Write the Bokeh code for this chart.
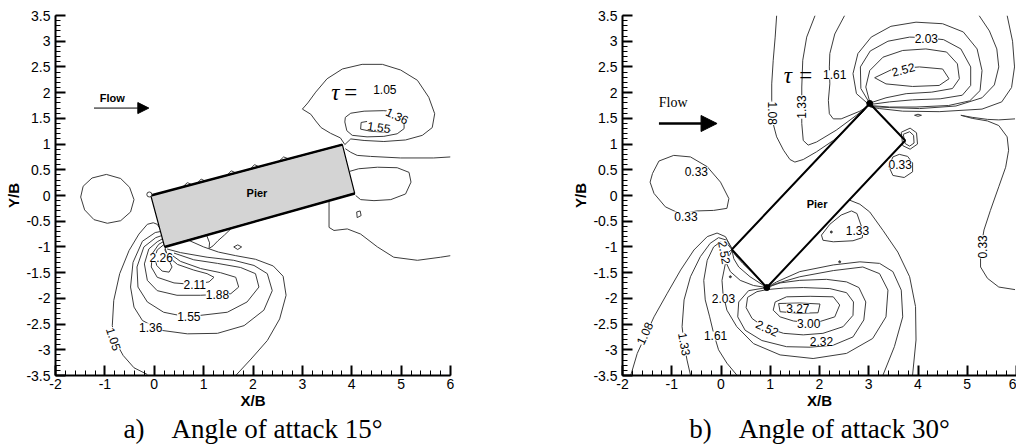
from bokeh.plotting import figure
from bokeh.models import (ColumnDataSource, LabelSet, Label, FixedTicker,
                          CustomJSTickFormatter, Arrow, NormalHead, Title)
from bokeh.layouts import row
from bokeh.embed import file_html
from bokeh.resources import INLINE
from bokeh.core.properties import value

# ---------------- axes ----------------
X_TICKS = [-2, -1, 0, 1, 2, 3, 4, 5, 6]
X_TICK_LABELS = ["-2", "-1", "0", "1", "2", "3", "4", "5", "6"]
Y_TICKS = [-3.5, -3, -2.5, -2, -1.5, -1, -0.5, 0, 0.5, 1, 1.5, 2, 2.5, 3, 3.5]
Y_TICK_LABELS = ["-3.5", "-3", "-2.5", "-2", "-1.5", "-1", "-0.5", "0",
                 "0.5", "1", "1.5", "2", "2.5", "3", "3.5"]
X_MINOR = [round(-2 + 0.2 * i, 2) for i in range(41)]
Y_MINOR = [round(-3.5 + 0.1 * i, 2) for i in range(71)]

# ---------------- panel a) angle of attack 15 ----------------
a_pier_x = [-0.07, 3.81, 4.06, 0.21]
a_pier_y = [0.00, 0.99, 0.04, -1.00]

a_circle_x = [-0.97, -0.68, -0.50, -0.41, -0.48, -0.68, -0.95, -1.22, -1.41, -1.49, -1.44, -1.26, -0.97]
a_circle_y = [0.41, 0.33, 0.16, -0.08, -0.32, -0.49, -0.54, -0.47, -0.28, -0.03, 0.18, 0.34, 0.41]

a_105_left_x = [-0.14, -0.41, -0.63, -0.78, -0.85, -0.82, -0.70, -0.51, -0.31, -0.14, -0.02, 0.06, 0.10]
a_105_left_y = [-3.48, -3.35, -3.11, -2.85, -2.53, -2.04, -1.52, -1.07, -0.75, -0.56, -0.53, -0.56, -0.62]
a_105_right_x = [1.65, 1.96, 2.29, 2.54, 2.67, 2.61, 2.41, 2.05, 1.65, 1.30, 1.00, 0.67]
a_105_right_y = [-3.50, -3.18, -2.82, -2.40, -1.94, -1.57, -1.37, -1.24, -1.17, -1.10, -1.00, -0.86]
a_136_x = [0.13, 0.02, -0.24, -0.43, -0.48, -0.41, -0.24, 0.13, 0.67, 1.28, 1.82, 2.22, 2.39, 2.29, 2.02, 1.61, 1.07, 0.53, 0.26]
a_136_y = [-0.70, -0.72, -0.89, -1.30, -1.78, -2.17, -2.43, -2.62, -2.69, -2.68, -2.53, -2.23, -1.85, -1.52, -1.36, -1.26, -1.20, -1.11, -1.04]
a_155_x = [0.15, 0.03, -0.21, -0.35, -0.33, -0.14, 0.19, 0.50, 0.94, 1.48, 1.88, 2.12, 2.05, 1.75, 1.28, 0.80, 0.40]
a_155_y = [-0.78, -0.82, -1.00, -1.39, -1.78, -2.07, -2.27, -2.33, -2.33, -2.27, -2.07, -1.78, -1.52, -1.40, -1.32, -1.25, -1.12]
a_188_x = [0.17, 0.06, -0.11, -0.20, -0.14, 0.06, 0.46, 0.94, 1.55, 1.71, 1.65, 1.34, 0.94, 0.53, 0.30]
a_188_y = [-0.84, -0.90, -1.04, -1.33, -1.65, -1.85, -1.94, -1.94, -1.91, -1.78, -1.59, -1.50, -1.42, -1.28, -1.12]
a_211_x = [0.18, 0.09, -0.04, -0.06, 0.06, 0.40, 0.80, 1.11, 1.21, 1.07, 0.80, 0.47, 0.30, 0.21]
a_211_y = [-0.90, -0.95, -1.13, -1.39, -1.59, -1.70, -1.73, -1.68, -1.59, -1.52, -1.45, -1.34, -1.20, -1.05]
a_226_x = [0.20, 0.06, 0.01, 0.05, 0.16, 0.30, 0.36, 0.30, 0.25, 0.22]
a_226_y = [-0.95, -1.06, -1.21, -1.36, -1.47, -1.49, -1.39, -1.26, -1.13, -1.02]
a_spike_x = [1.06, 1.12, 1.11, 1.19, 1.29, 1.42, 1.55]
a_spike_y = [-0.77, -0.92, -1.03, -0.98, -0.88, -0.77, -0.65]
a_diamond_x = [1.61, 1.69, 1.77, 1.69, 1.61]
a_diamond_y = [-1.00, -0.96, -1.00, -1.05, -1.00]
a_small_x = [4.10, 4.17, 4.19, 4.11, 4.10]
a_small_y = [-0.32, -0.30, -0.39, -0.43, -0.32]

a_up105_x = [3.86, 3.77, 3.57, 3.38, 3.27, 3.17, 3.00, 3.11, 3.27, 3.50, 3.81, 4.21, 4.62, 4.99, 5.33, 5.56, 5.68, 5.63, 5.43, 5.09, 4.65, 4.25, 3.98, 3.86]
a_up105_y = [0.99, 1.12, 1.21, 1.32, 1.45, 1.58, 1.68, 1.80, 2.01, 2.27, 2.46, 2.55, 2.55, 2.44, 2.24, 1.91, 1.59, 1.32, 1.17, 1.08, 1.05, 1.07, 1.10, 0.99]
a_up136_x = [3.87, 3.98, 4.25, 4.65, 4.85, 5.06, 5.06, 4.92, 4.65, 4.31, 4.01, 3.90, 3.86, 3.87]
a_up136_y = [1.52, 1.60, 1.64, 1.65, 1.63, 1.43, 1.30, 1.20, 1.15, 1.14, 1.17, 1.26, 1.43, 1.52]
a_up155_x = [4.31, 4.19, 4.18, 4.38, 4.68, 4.79]
a_up155_y = [1.44, 1.42, 1.29, 1.25, 1.23, 1.27]
a_r1_x = [3.87, 3.98, 4.11, 4.38, 4.99, 5.66, 6.00]
a_r1_y = [0.91, 0.84, 0.78, 0.76, 0.73, 0.73, 0.75]
a_r2_x = [3.96, 4.14, 4.52, 4.92, 5.16, 5.20, 5.09, 4.79, 4.45, 4.18, 4.08]
a_r2_y = [0.47, 0.52, 0.55, 0.54, 0.45, 0.26, 0.03, -0.08, -0.10, -0.08, 0.00]
a_r3_x = [3.54, 3.54, 3.64, 3.91, 4.18, 4.52, 4.85, 5.33, 5.80, 6.00]
a_r3_y = [-0.12, -0.62, -0.68, -0.65, -0.75, -1.00, -1.20, -1.26, -1.20, -1.17]
a_bump_x = [[0.57, 0.67, 0.77], [0.87, 0.95, 1.03], [1.48, 1.56, 1.65], [1.95, 2.03, 2.12], [2.52, 2.62, 2.73]]
a_bump_y = [[0.16, 0.25, 0.21], [0.24, 0.32, 0.28], [0.40, 0.48, 0.44], [0.52, 0.60, 0.56], [0.66, 0.75, 0.71]]

a_label_text = ["2.26", "2.11", "1.88", "1.55", "1.36", "1.05", "1.36", "1.55", "1.05"]
a_label_x = [0.14, 0.82, 1.28, 0.70, -0.07, -0.82, 4.92, 4.55, 4.67]
a_label_y = [-1.21, -1.73, -1.92, -2.35, -2.57, -2.79, 1.55, 1.33, 2.06]
a_label_angle = [0, 0, 0, 0, 0, -72, -25, -8, 0]

# ---------------- panel b) angle of attack 30 ----------------
b_pier_x = [0.22, 3.02, 3.74, 0.93]
b_pier_y = [-1.05, 1.79, 1.07, -1.79]

b_loop033_x = [-1.39, -1.26, -0.96, -0.62, -0.28, -0.01, 0.16, 0.12, -0.15, -0.49, -0.82, -1.13, -1.36, -1.44, -1.39]
b_loop033_y = [0.43, 0.67, 0.78, 0.75, 0.56, 0.26, -0.06, -0.25, -0.29, -0.30, -0.36, -0.22, 0.04, 0.26, 0.43]
b_up108_x = [1.13, 1.10, 1.06, 1.03, 1.03, 1.05, 1.13, 1.27, 1.40, 1.50, 1.67, 1.94, 2.28, 2.61, 2.88, 3.00]
b_up108_y = [3.50, 3.08, 2.63, 2.17, 1.85, 1.43, 1.14, 0.88, 0.70, 0.65, 0.70, 0.85, 1.07, 1.36, 1.62, 1.76]
b_up133_x = [1.91, 1.74, 1.66, 1.64, 1.64, 1.67, 1.77, 1.94, 2.34, 2.75, 3.00]
b_up133_y = [3.50, 3.08, 2.63, 2.11, 1.40, 1.07, 0.98, 1.04, 1.27, 1.56, 1.75]
b_up161_x = [2.51, 2.31, 2.21, 2.20, 2.21, 2.18, 2.20, 2.28, 2.44, 2.82, 3.00]
b_up161_y = [3.50, 3.14, 2.76, 2.50, 2.17, 1.85, 1.59, 1.49, 1.49, 1.64, 1.75]
b_in252_x = [3.12, 3.49, 4.03, 4.50, 4.63, 4.43, 3.89, 3.35, 3.12]
b_in252_y = [2.29, 2.46, 2.50, 2.46, 2.27, 2.14, 2.12, 2.17, 2.29]
b_loop2_x = [3.02, 2.94, 3.02, 3.29, 3.69, 4.16, 4.58, 4.80, 4.84, 4.70, 4.28, 3.76, 3.35, 3.03]
b_loop2_y = [1.82, 2.11, 2.43, 2.69, 2.82, 2.85, 2.79, 2.56, 2.27, 2.08, 2.01, 1.98, 1.90, 1.80]
b_loop203_x = [3.02, 2.84, 2.83, 3.03, 3.39, 3.83, 4.14, 4.52, 4.87, 5.07, 5.07, 4.90, 4.45, 3.89, 3.42, 3.03]
b_loop203_y = [1.79, 2.08, 2.50, 2.81, 3.00, 3.08, 3.07, 3.03, 2.85, 2.50, 2.14, 1.95, 1.88, 1.86, 1.82, 1.77]
b_loopout_x = [3.00, 2.75, 2.68, 2.78, 3.05, 3.45, 3.96, 4.50, 4.92, 5.20, 5.30, 5.26, 5.05, 4.62, 3.96, 3.42, 3.02]
b_loopout_y = [1.77, 1.98, 2.37, 2.76, 3.08, 3.29, 3.37, 3.34, 3.18, 2.85, 2.43, 2.04, 1.84, 1.75, 1.72, 1.72, 1.75]
b_u1_x = [5.24, 5.45, 5.60, 5.64, 5.55, 5.30, 4.77, 4.03, 3.42, 3.03]
b_u1_y = [3.50, 3.20, 2.85, 2.50, 2.15, 1.90, 1.74, 1.69, 1.71, 1.73]
b_u2_x = [5.81, 5.92, 5.96, 5.90, 5.70, 5.30, 4.43, 3.69, 3.22, 3.03]
b_u2_y = [3.50, 3.00, 2.50, 2.10, 1.82, 1.68, 1.63, 1.64, 1.69, 1.72]
b_rr1_x = [4.87, 5.10, 5.41, 5.64, 5.97]
b_rr1_y = [1.56, 1.52, 1.48, 1.47, 1.49]
b_rr2_x = [4.87, 5.10, 5.41, 5.64, 5.81, 5.84, 5.78, 5.64, 5.47, 5.34, 5.27, 5.27, 5.41, 5.64, 5.97]
b_rr2_y = [1.56, 1.50, 1.45, 1.36, 1.14, 0.88, 0.55, 0.17, -0.29, -0.67, -1.06, -1.39, -1.61, -1.78, -1.83]
b_cin_x = [3.70, 3.83, 3.91, 3.92, 3.83, 3.74, 3.70]
b_cin_y = [1.19, 1.24, 1.17, 1.02, 0.96, 1.01, 1.19]
b_cout_x = [3.66, 3.84, 3.97, 3.99, 3.84, 3.69, 3.66]
b_cout_y = [1.23, 1.31, 1.22, 1.00, 0.90, 0.97, 1.23]
b_s033_x = [3.49, 3.41, 3.49, 3.72, 3.89, 3.89, 3.79, 3.62, 3.49]
b_s033_y = [0.75, 0.56, 0.39, 0.35, 0.46, 0.63, 0.76, 0.80, 0.75]
b_ell_x = [3.93, 4.00, 4.07, 4.00, 3.93]
b_ell_y = [1.56, 1.58, 1.56, 1.54, 1.56]

b_lo108_x = [-1.83, -1.70, -1.36, -1.09, -0.82, -0.55, -0.28, -0.08, 0.09, 0.22]
b_lo108_y = [-3.49, -3.07, -2.36, -1.90, -1.45, -1.06, -0.80, -0.73, -0.80, -1.03]
b_lo133_x = [-0.62, -0.69, -0.75, -0.79, -0.75, -0.62, -0.42, -0.22, -0.05, 0.12, 0.22]
b_lo133_y = [-3.49, -3.20, -2.88, -2.55, -2.03, -1.58, -1.19, -0.93, -0.82, -0.87, -1.03]
b_lo161_x = [0.32, 0.12, -0.05, -0.15, -0.23, -0.32, -0.35, -0.28, -0.15, -0.01, 0.12, 0.22]
b_lo161_y = [-3.49, -3.26, -3.00, -2.68, -2.36, -2.03, -1.65, -1.26, -1.00, -0.90, -0.93, -1.05]
b_f1_x = [0.22, 0.12, 0.11, 0.19, 0.39, 0.66, 0.93]
b_f1_y = [-1.05, -1.13, -1.32, -1.48, -1.65, -1.75, -1.79]
b_f2_x = [0.22, 0.26, 0.36, 0.59, 0.93]
b_f2_y = [-1.05, -1.23, -1.39, -1.58, -1.79]
b_f3_x = [0.22, 0.29, 0.44, 0.69, 0.93]
b_f3_y = [-1.05, -1.16, -1.32, -1.55, -1.79]
b_203_x = [0.22, 0.09, 0.02, 0.04, 0.12, 0.32, 0.66, 1.20, 1.87, 2.55, 3.08, 3.35, 3.39, 3.22, 2.88, 2.28, 1.60, 1.13, 0.94]
b_203_y = [-1.08, -1.32, -1.65, -1.90, -2.23, -2.55, -2.88, -3.10, -3.17, -3.07, -2.78, -2.36, -1.84, -1.52, -1.39, -1.46, -1.58, -1.71, -1.79]
b_ca_x = [3.29, 3.52, 3.69, 3.66, 3.49, 3.22, 2.82, 2.28, 1.60, 1.13, 0.95]
b_ca_y = [-3.49, -2.94, -2.36, -1.84, -1.48, -1.32, -1.29, -1.35, -1.48, -1.68, -1.78]
b_cb_x = [2.61, 2.82, 3.02, 3.29, 3.59, 3.83, 3.95, 3.96, 3.89]
b_cb_y = [-0.09, -0.17, -0.32, -0.68, -1.10, -1.58, -2.16, -2.81, -3.49]
b_m133_x = [2.04, 2.21, 2.44, 2.65, 2.76, 2.88, 2.87, 2.68, 2.28, 2.07, 2.04]
b_m133_y = [-0.77, -0.56, -0.38, -0.30, -0.35, -0.68, -0.82, -0.88, -0.90, -0.87, -0.77]
b_327_x = [1.17, 1.60, 2.01, 1.97, 1.60, 1.20, 1.17]
b_327_y = [-2.10, -2.09, -2.11, -2.28, -2.29, -2.26, -2.10]
b_300_x = [1.10, 1.33, 1.81, 2.28, 2.41, 2.31, 2.01, 1.77, 1.47, 1.20, 1.06, 1.10]
b_300_y = [-2.07, -1.97, -1.96, -1.97, -2.13, -2.36, -2.45, -2.47, -2.44, -2.36, -2.23, -2.07]
b_252_x = [0.93, 0.73, 0.54, 0.51, 0.63, 0.86, 1.27, 1.67, 2.07, 2.48, 2.68, 2.69, 2.55, 2.21, 1.67, 1.27, 0.93]
b_252_y = [-1.83, -1.87, -1.98, -2.18, -2.39, -2.55, -2.68, -2.71, -2.68, -2.55, -2.33, -2.07, -1.89, -1.81, -1.79, -1.80, -1.83]
b_232_x = [0.93, 0.56, 0.36, 0.34, 0.49, 0.83, 1.33, 1.81, 2.28, 2.68, 2.90, 2.94, 2.80, 2.55, 2.14, 1.60, 1.20, 0.93]
b_232_y = [-1.79, -1.85, -2.07, -2.36, -2.62, -2.82, -2.94, -2.95, -2.91, -2.75, -2.42, -2.07, -1.79, -1.68, -1.63, -1.65, -1.70, -1.79]
b_dot_x = [2.24, 2.41, 0.19]
b_dot_y = [-0.71, -1.29, -1.58]

b_label_text = ["2.03", "2.52", "1.61", "1.33", "1.08", "0.33", "0.33", "0.33", "0.33",
                "1.33", "2.52", "2.03", "3.27", "3.00", "2.52", "2.32", "1.61", "1.08", "1.33"]
b_label_x = [4.17, 3.70, 2.31, 1.64, 1.05, -0.50, -0.71, 3.64, 5.30,
             2.77, 0.07, 0.05, 1.56, 1.78, 0.94, 2.04, -0.11, -1.55, -0.74]
b_label_y = [3.05, 2.45, 2.35, 1.72, 1.60, 0.46, -0.40, 0.61, -1.00,
             -0.68, -1.11, -2.00, -2.19, -2.49, -2.58, -2.84, -2.73, -2.68, -2.89]
b_label_angle = [0, 15, 0, 90, -90, 0, 0, 0, 90,
                 0, -80, 0, 0, 0, -25, 0, 0, 65, -80]

# captions (non-breaking spaces keep the wide gap after the letter)
CAP_A = "a)\u00a0\u00a0\u00a0\u00a0Angle of attack 15\u00b0"
CAP_B = "b)\u00a0\u00a0\u00a0\u00a0Angle of attack 30\u00b0"

LINE_COLOR = "#3c3c3c"
FMT_CODE = "const i = tvals.findIndex(t => Math.abs(t - tick) < 1e-6); return i >= 0 ? tlabels[i] : '';"


def style_axes(p):
    p.xaxis.ticker = FixedTicker(ticks=X_TICKS, minor_ticks=X_MINOR)
    p.yaxis.ticker = FixedTicker(ticks=Y_TICKS, minor_ticks=Y_MINOR)
    p.xaxis.formatter = CustomJSTickFormatter(args=dict(tvals=X_TICKS, tlabels=X_TICK_LABELS), code=FMT_CODE)
    p.yaxis.formatter = CustomJSTickFormatter(args=dict(tvals=Y_TICKS, tlabels=Y_TICK_LABELS), code=FMT_CODE)
    for ax in (p.xaxis, p.yaxis):
        ax.axis_line_width = 2
        ax.axis_line_color = "black"
        ax.major_tick_in = 10
        ax.major_tick_out = 0
        ax.minor_tick_in = 5
        ax.minor_tick_out = 0
        ax.major_tick_line_width = 2
        ax.major_tick_line_color = "black"
        ax.minor_tick_line_width = 1
        ax.minor_tick_line_color = "black"
        ax.major_label_text_font = "Liberation Sans"
        ax.major_label_text_font_size = "14px"
        ax.major_label_text_color = "black"
        ax.axis_label_text_font = "Liberation Sans"
        ax.axis_label_text_font_style = "bold"
        ax.axis_label_text_font_size = "15px"
        ax.axis_label_text_color = "black"
    p.xaxis.major_label_standoff = 3
    p.yaxis.major_label_standoff = 5
    p.xaxis.axis_label = "X/B"
    p.yaxis.axis_label = "Y/B"
    p.xaxis.axis_label_standoff = 0
    p.yaxis.axis_label_standoff = 1
    p.xgrid.visible = False
    p.ygrid.visible = False
    p.outline_line_color = None


def make_fig(width, left, right, caption):
    p = figure(width=width, height=444, x_range=(-2, 6), y_range=(-3.5, 3.5),
               output_backend="svg", toolbar_location=None,
               min_border_left=left, min_border_right=right,
               min_border_top=15, min_border_bottom=69)
    p.background_fill_color = "white"
    p.border_fill_color = "white"
    style_axes(p)
    p.add_layout(Title(text=caption, align="center", text_font="Liberation Serif",
                       text_font_size="27px", text_font_style="normal", text_color="black",
                       standoff=0, offset=0), "below")
    return p


def add_labels(p, text, xs, ys, angles):
    src = ColumnDataSource(dict(text=text, x=xs, y=ys, angle=angles))
    p.add_layout(LabelSet(x="x", y="y", text="text", angle="angle", angle_units="deg",
                          source=src, text_align="center", text_baseline="middle",
                          text_font=value("Liberation Sans"), text_font_size=value("12px"),
                          text_color="black", background_fill_color="white"))


def add_text(p, x, y, text, font, size, style="normal", align="center", baseline="middle"):
    p.add_layout(Label(x=x, y=y, text=text, text_font=font, text_font_size=size,
                       text_font_style=style, text_align=align, text_baseline=baseline,
                       text_color="black"))


# ---------------- figure a ----------------
pa = make_fig(500, 55, 50, CAP_A)
a_lines_x = [a_circle_x, a_105_left_x, a_105_right_x, a_136_x, a_155_x, a_188_x, a_211_x, a_226_x,
             a_spike_x, a_diamond_x, a_small_x, a_up105_x, a_up136_x, a_up155_x, a_r1_x, a_r2_x, a_r3_x] + a_bump_x
a_lines_y = [a_circle_y, a_105_left_y, a_105_right_y, a_136_y, a_155_y, a_188_y, a_211_y, a_226_y,
             a_spike_y, a_diamond_y, a_small_y, a_up105_y, a_up136_y, a_up155_y, a_r1_y, a_r2_y, a_r3_y] + a_bump_y
pa.multi_line(xs=a_lines_x, ys=a_lines_y, line_color=LINE_COLOR, line_width=1)
pa.patch(a_pier_x, a_pier_y, fill_color="#d4d4d4", line_color="black", line_width=1.2)
pa.multi_line(xs=[[a_pier_x[0], a_pier_x[1]], [a_pier_x[3], a_pier_x[2]]],
              ys=[[a_pier_y[0], a_pier_y[1]], [a_pier_y[3], a_pier_y[2]]],
              line_color="black", line_width=2.5)
pa.scatter([a_pier_x[0] - 0.03], [a_pier_y[0] + 0.02], marker="circle", size=5,
           fill_color="white", line_color=LINE_COLOR, line_width=1)
add_labels(pa, a_label_text, a_label_x, a_label_y, a_label_angle)
add_text(pa, 2.08, 0.05, "Pier", "Liberation Sans", "11px", "bold")
add_text(pa, -0.85, 1.89, "Flow", "Liberation Sans", "11px", "bold")
pa.add_layout(Arrow(end=NormalHead(size=11, fill_color="black", line_color="black"),
                    x_start=-1.22, y_start=1.70, x_end=-0.11, y_end=1.70,
                    line_color="black", line_width=1))
add_text(pa, 3.67, 2.01, "τ", "Liberation Serif", "23px", "italic")
add_text(pa, 3.98, 2.01, "=", "Liberation Serif", "23px")

# ---------------- figure b ----------------
pb = make_fig(516, 122, 0, CAP_B)
b_lines_x = [b_loop033_x, b_up108_x, b_up133_x, b_up161_x, b_in252_x, b_loop2_x, b_loop203_x, b_loopout_x,
             b_u1_x, b_u2_x, b_rr1_x, b_rr2_x, b_cin_x, b_cout_x, b_s033_x, b_ell_x, b_lo108_x, b_lo133_x,
             b_lo161_x, b_f1_x, b_f2_x, b_f3_x, b_203_x, b_ca_x, b_cb_x, b_m133_x, b_327_x, b_300_x,
             b_252_x, b_232_x]
b_lines_y = [b_loop033_y, b_up108_y, b_up133_y, b_up161_y, b_in252_y, b_loop2_y, b_loop203_y, b_loopout_y,
             b_u1_y, b_u2_y, b_rr1_y, b_rr2_y, b_cin_y, b_cout_y, b_s033_y, b_ell_y, b_lo108_y, b_lo133_y,
             b_lo161_y, b_f1_y, b_f2_y, b_f3_y, b_203_y, b_ca_y, b_cb_y, b_m133_y, b_327_y, b_300_y,
             b_252_y, b_232_y]
pb.multi_line(xs=b_lines_x, ys=b_lines_y, line_color=LINE_COLOR, line_width=1)
pb.scatter(b_dot_x, b_dot_y, marker="circle", size=2, fill_color=LINE_COLOR, line_color=LINE_COLOR)
pb.patch(b_pier_x, b_pier_y, fill_color=None, line_color="black", line_width=2)
pb.scatter([b_pier_x[1], b_pier_x[3]], [b_pier_y[1], b_pier_y[3]], marker="circle", size=6,
           fill_color="black", line_color="black")
add_labels(pb, b_label_text, b_label_x, b_label_y, b_label_angle)
add_text(pb, 1.95, -0.16, "Pier", "Liberation Sans", "11px", "bold")
add_text(pb, -0.97, 1.81, "Flow", "Liberation Serif", "14px")
pb.add_layout(Arrow(end=NormalHead(size=16, fill_color="black", line_color="black"),
                    x_start=-1.26, y_start=1.40, x_end=-0.08, y_end=1.40,
                    line_color="black", line_width=2.5))
add_text(pb, 1.36, 2.33, "τ", "Liberation Serif", "23px", "italic")
add_text(pb, 1.72, 2.33, "=", "Liberation Serif", "23px")

layout = row(pa, pb)
open("out.html", "w").write(file_html(layout, INLINE))
